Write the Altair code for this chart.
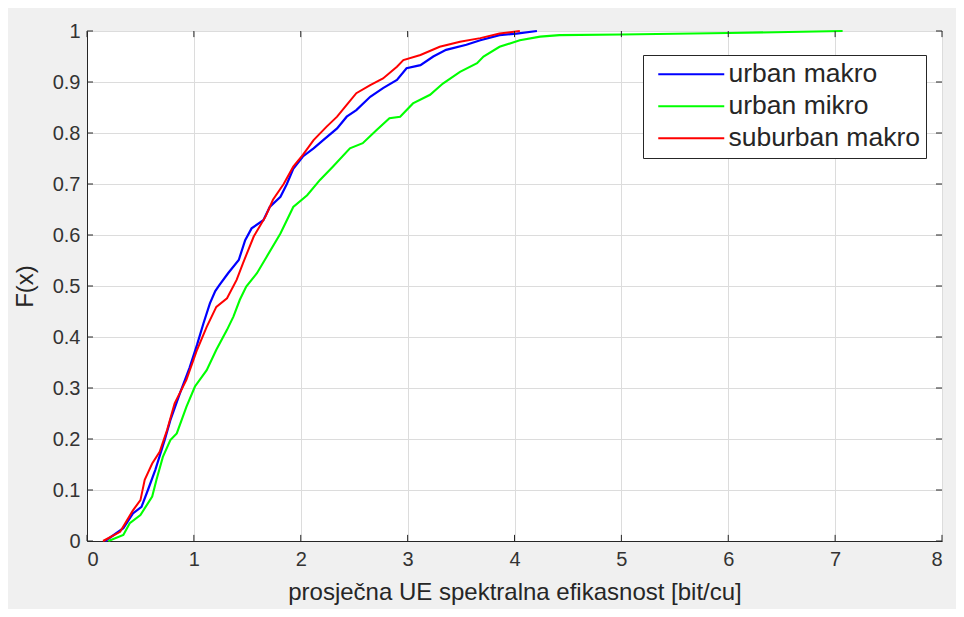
import altair as alt
import pandas as pd

series_names = ["urban makro", "urban mikro", "suburban makro"]
series_colors = ["#0000ff", "#00ff00", "#ff0000"]
series_widths = [2.2, 2.0, 1.2]

blue_x = [0.17, 0.34, 0.43, 0.51, 0.57, 0.64, 0.73, 0.78, 0.87, 0.96, 1.03, 1.09, 1.15, 1.20, 1.24, 1.32, 1.42, 1.48, 1.54, 1.65, 1.71, 1.81, 1.87, 1.93, 2.02, 2.12, 2.21, 2.34, 2.43, 2.52, 2.65, 2.77, 2.90, 2.99, 3.12, 3.24, 3.36, 3.55, 3.68, 3.86, 4.02, 4.21]
blue_y = [0.0, 0.025, 0.054, 0.067, 0.10, 0.14, 0.20, 0.237, 0.29, 0.34, 0.385, 0.427, 0.466, 0.49, 0.502, 0.525, 0.551, 0.59, 0.613, 0.629, 0.655, 0.675, 0.70, 0.73, 0.754, 0.77, 0.786, 0.809, 0.832, 0.845, 0.871, 0.888, 0.904, 0.927, 0.933, 0.95, 0.963, 0.973, 0.982, 0.992, 0.995, 1.0]

green_x = [0.20, 0.34, 0.40, 0.50, 0.61, 0.65, 0.71, 0.78, 0.84, 0.93, 1.01, 1.12, 1.21, 1.31, 1.37, 1.43, 1.49, 1.59, 1.68, 1.81, 1.93, 2.06, 2.18, 2.30, 2.46, 2.58, 2.71, 2.83, 2.93, 3.05, 3.21, 3.33, 3.49, 3.65, 3.71, 3.86, 4.05, 4.24, 4.42, 5.0, 6.0, 7.07]
green_y = [0.0, 0.012, 0.035, 0.051, 0.087, 0.12, 0.165, 0.198, 0.211, 0.263, 0.303, 0.335, 0.375, 0.414, 0.44, 0.473, 0.499, 0.525, 0.557, 0.603, 0.655, 0.678, 0.708, 0.734, 0.77, 0.78, 0.806, 0.829, 0.832, 0.858, 0.875, 0.897, 0.92, 0.937, 0.95, 0.969, 0.982, 0.989, 0.992, 0.993, 0.996, 1.0]

red_x = [0.15, 0.31, 0.43, 0.50, 0.54, 0.61, 0.68, 0.75, 0.82, 0.93, 1.03, 1.12, 1.21, 1.31, 1.40, 1.46, 1.56, 1.67, 1.74, 1.84, 1.93, 2.02, 2.12, 2.24, 2.34, 2.43, 2.52, 2.65, 2.77, 2.90, 2.96, 3.12, 3.30, 3.49, 3.68, 3.86, 4.05]
red_y = [0.0, 0.018, 0.06, 0.08, 0.12, 0.152, 0.175, 0.218, 0.27, 0.316, 0.375, 0.42, 0.459, 0.476, 0.512, 0.545, 0.597, 0.636, 0.669, 0.70, 0.734, 0.757, 0.786, 0.812, 0.832, 0.855, 0.878, 0.894, 0.907, 0.93, 0.943, 0.953, 0.969, 0.979, 0.986, 0.995, 1.0]

x_ticks = [0, 1, 2, 3, 4, 5, 6, 7, 8]
y_ticks = [0, 0.1, 0.2, 0.3, 0.4, 0.5, 0.6, 0.7, 0.8, 0.9, 1.0]

FONT = "Liberation Sans"
INK = "#262626"

rows = []
for name, xs, ys in zip(series_names, [blue_x, green_x, red_x], [blue_y, green_y, red_y]):
    for i, (xv, yv) in enumerate(zip(xs, ys)):
        rows.append({"series": name, "x": xv, "y": yv, "i": i})
df = pd.DataFrame(rows)

xscale = alt.Scale(domain=[0, 8], nice=False, zero=False)
yscale = alt.Scale(domain=[0, 1], nice=False, zero=False)

lines = alt.Chart(df).mark_line(interpolate="linear").encode(
    x=alt.X("x:Q", scale=xscale,
            axis=alt.Axis(values=x_ticks, title="prosječna UE spektralna efikasnost [bit/cu]",
                          format="d", tickSize=0, labelPadding=8, titlePadding=11,
                          grid=True)),
    y=alt.Y("y:Q", scale=yscale,
            axis=alt.Axis(values=y_ticks, title="F(x)",
                          labelExpr="datum.value == 0 ? '0' : datum.value == 1 ? '1' : format(datum.value, '.1f')",
                          tickSize=0, labelPadding=7, titlePadding=15, grid=True)),
    color=alt.Color("series:N",
                    scale=alt.Scale(domain=series_names, range=series_colors),
                    legend=alt.Legend(title=None, orient="none", legendX=556, legendY=24,
                                      symbolType="M-1,0H5", symbolSize=484,
                                      symbolStrokeWidth=2, symbolOffset=7, labelOffset=46,
                                      labelFontSize=26.5, labelFont=FONT, labelColor=INK,
                                      labelLimit=400,
                                      rowPadding=5, padding=6,
                                      fillColor="white", strokeColor=INK)),
    strokeWidth=alt.StrokeWidth("series:N",
                                scale=alt.Scale(domain=series_names, range=series_widths),
                                legend=None),
    order="i:Q",
)

tdx = pd.DataFrame({"v": x_ticks})
tdy = pd.DataFrame({"v": y_ticks})

bottom_ticks = alt.Chart(tdx).mark_rule(color=INK, strokeWidth=1).encode(
    x=alt.X("v:Q", scale=xscale), y=alt.Y("lo:Q", scale=yscale), y2="hi:Q"
).transform_calculate(lo="0", hi="0.012")
top_ticks = alt.Chart(tdx).mark_rule(color=INK, strokeWidth=1).encode(
    x=alt.X("v:Q", scale=xscale), y=alt.Y("lo:Q", scale=yscale), y2="hi:Q"
).transform_calculate(lo="0.988", hi="1")
left_ticks = alt.Chart(tdy).mark_rule(color=INK, strokeWidth=1).encode(
    y=alt.Y("v:Q", scale=yscale), x=alt.X("lo:Q", scale=xscale), x2="hi:Q"
).transform_calculate(lo="0", hi="0.056")
right_ticks = alt.Chart(tdy).mark_rule(color=INK, strokeWidth=1).encode(
    y=alt.Y("v:Q", scale=yscale), x=alt.X("lo:Q", scale=xscale), x2="hi:Q"
).transform_calculate(lo="7.944", hi="8")

chart = alt.layer(lines, bottom_ticks, top_ticks, left_ticks, right_ticks).properties(
    width=855, height=510,
    autosize=alt.AutoSizeParams(type="none"),
    padding={"left": 79, "top": 23, "right": 14, "bottom": 68},
    background="#f0f0f0",
).configure_view(
    stroke=INK, strokeWidth=1, fill="white"
).configure_axis(
    labelFont=FONT, titleFont=FONT, labelFontSize=20, titleFontSize=24,
    labelColor="#333333", titleColor=INK, titleFontWeight="normal",
    domainColor=INK, gridColor="#dcdcdc", gridWidth=1,
)

chart.save("out.html", embed_options={"renderer": "svg", "actions": False})
